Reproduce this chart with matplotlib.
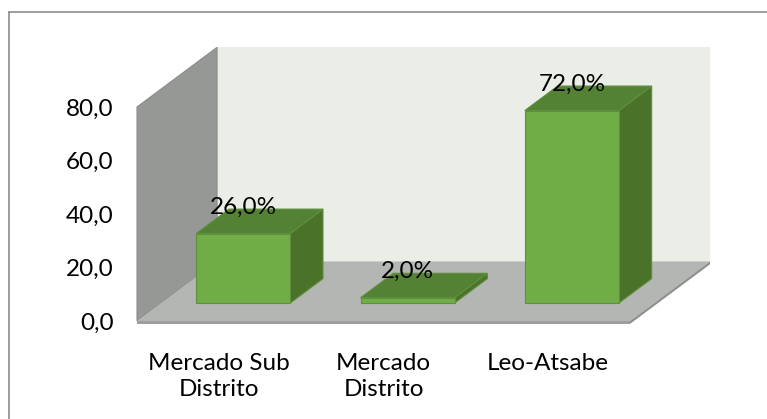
import matplotlib.pyplot as plt
from matplotlib.patches import Polygon
from matplotlib.lines import Line2D

# data
categories = ["Mercado Sub\nDistrito", "Mercado\nDistrito", "Leo-Atsabe"]
values = [26.0, 2.0, 72.0]
y_ticks = [0, 20, 40, 60, 80]

# oblique projection of the depth axis, in data units (0 = front, 1 = back wall)
DEPTH_X = 0.487
DEPTH_Y = 22.3
BAR_WIDTH = 0.572
BAR_FRONT = 0.30
BAR_BACK = 0.71

FRONT = "#70AD47"
TOP = "#548235"
SIDE = "#4A7229"
EDGE = "#5E8F3C"
FS = 17.5


def proj(x, y, d):
    return (x + d * DEPTH_X, y + d * DEPTH_Y)


def main() -> None:
    plt.rcParams["font.family"] = ["Lato", "DejaVu Sans"]
    W, H = 767, 419
    fig = plt.figure(figsize=(W / 100, H / 100), dpi=100)

    # front plane of the chart, in pixels
    left, right, bottom, top = 137, 630, 321, 107
    ax = fig.add_axes([left / W, 1 - bottom / H, (right - left) / W, (bottom - top) / H])
    ax.set_xlim(0, len(categories))
    ax.set_ylim(0, 80)
    ax.patch.set_visible(False)
    for s in ax.spines.values():
        s.set_visible(False)

    n = len(categories)
    ymax = y_ticks[-1]

    # walls and floor
    back = [proj(0, 0, 1), proj(n, 0, 1), proj(n, ymax, 1), proj(0, ymax, 1)]
    ax.add_patch(Polygon(back, closed=True, fc="#EAEEE7", ec="none", clip_on=False, zorder=1))
    side = [proj(0, 0, 0), proj(0, 0, 1), proj(0, ymax, 1), proj(0, ymax, 0)]
    ax.add_patch(Polygon(side, closed=True, fc="#959895", ec="#8A8C8A", lw=0.8, clip_on=False, zorder=2))
    slab = 1.1
    floor_front = [proj(0, -slab, 0), proj(n, -slab, 0), proj(n, 0, 0), proj(0, 0, 0)]
    floor_side = [proj(n, -slab, 0), proj(n, -slab, 1), proj(n, 0, 1), proj(n, 0, 0)]
    floor = [proj(0, 0, 0), proj(n, 0, 0), proj(n, 0, 1), proj(0, 0, 1)]
    ax.add_patch(Polygon(floor, closed=True, fc="#B3B6B2", ec="none", clip_on=False, zorder=3))
    ax.add_patch(Polygon(floor_front, closed=True, fc="#9C9F9C", ec="none", clip_on=False, zorder=3))
    ax.add_patch(Polygon(floor_side, closed=True, fc="#8E908E", ec="none", clip_on=False, zorder=3))

    # bars
    for i, v in enumerate(values):
        x0 = i + 0.5 - BAR_WIDTH / 2
        x1 = i + 0.5 + BAR_WIDTH / 2
        front = [proj(x0, 0, BAR_FRONT), proj(x1, 0, BAR_FRONT),
                 proj(x1, v, BAR_FRONT), proj(x0, v, BAR_FRONT)]
        topf = [proj(x0, v, BAR_FRONT), proj(x1, v, BAR_FRONT),
                proj(x1, v, BAR_BACK), proj(x0, v, BAR_BACK)]
        sidef = [proj(x1, 0, BAR_FRONT), proj(x1, 0, BAR_BACK),
                 proj(x1, v, BAR_BACK), proj(x1, v, BAR_FRONT)]
        for poly, c in ((sidef, SIDE), (topf, TOP), (front, FRONT)):
            ax.add_patch(Polygon(poly, closed=True, fc=c, ec=EDGE, lw=0.8,
                                 clip_on=False, zorder=5))
        lx, _ = proj(i + 0.5, v, BAR_FRONT)
        ly = v + BAR_BACK * DEPTH_Y + 0.8
        ax.text(lx, ly, f"{v:.1f}%".replace(".", ","), ha="center", va="center",
                fontsize=FS, color="black", zorder=10, clip_on=False)

    ax.set_yticks(y_ticks)
    ax.set_yticklabels([f"{t:.1f}".replace(".", ",") for t in y_ticks])
    ax.set_xticks([i + 0.5 for i in range(n)])
    ax.set_xticklabels(categories, linespacing=1.3)
    ax.tick_params(axis="y", length=0, pad=17, labelsize=FS)
    ax.tick_params(axis="x", length=0, pad=23, labelsize=FS)

    # outer border (top and left only visible in the crop)
    fig.add_artist(Line2D([8.5 / W, 1], [1 - 12.5 / H, 1 - 12.5 / H], color="#8C8C8C", lw=1.2))
    fig.add_artist(Line2D([8.5 / W, 8.5 / W], [0, 1 - 12.5 / H], color="#8C8C8C", lw=1.2))

    fig.savefig("out.png", dpi=100)


if __name__ == "__main__":
    main()
